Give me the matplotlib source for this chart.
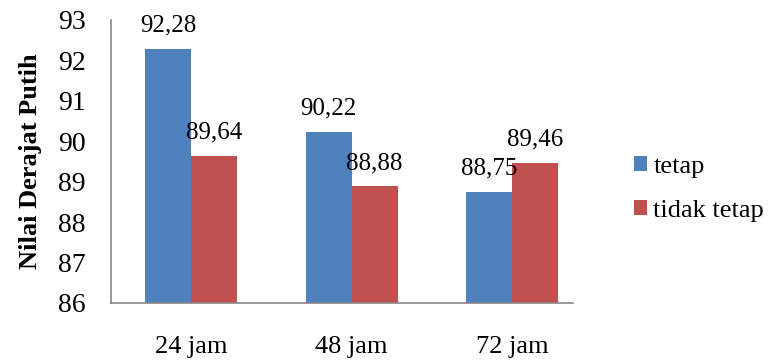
import matplotlib
matplotlib.use("Agg")
import matplotlib.pyplot as plt
import numpy as np

categories = ["24 jam", "48 jam", "72 jam"]
tetap = [92.28, 90.22, 88.75]
tidak_tetap = [89.64, 88.88, 89.46]
series_names = ["tetap", "tidak tetap"]
yticks = [86, 87, 88, 89, 90, 91, 92, 93]

plt.rcParams['font.family'] = ['Liberation Serif', 'DejaVu Serif']

fig = plt.figure(figsize=(7.68, 3.61), dpi=100)
ax = fig.add_axes([0.1445, 0.161, 0.6015, 0.7836])

x = np.arange(len(categories))
w = 0.287
blue = "#4F81BD"
red = "#C0504D"
b1 = ax.bar(x - w / 2, tetap, w, color=blue, label=series_names[0])
b2 = ax.bar(x + w / 2, tidak_tetap, w, color=red, label=series_names[1])

def fmt(v):
    return f"{v:.2f}".replace(".", ",")

for bars, vals in ((b1, tetap), (b2, tidak_tetap)):
    for rect, v in zip(bars, vals):
        ax.annotate(fmt(v), (rect.get_x() + rect.get_width() / 2, v),
                    xytext=(0, 9), textcoords="offset points",
                    ha="center", va="bottom", fontsize=18,
                    annotation_clip=False)

ax.set_ylim(86, 93)
ax.set_xlim(-0.5, 2.38)
ax.set_yticks(yticks)
ax.set_yticklabels([str(t) for t in yticks], fontsize=20)
ax.set_xticks(x)
ax.set_xticklabels(categories, fontsize=19)
ax.tick_params(axis="both", length=0)
ax.tick_params(axis="x", pad=24)
ax.tick_params(axis="y", pad=18)
for s in ("top", "right"):
    ax.spines[s].set_visible(False)
for s in ("left", "bottom"):
    ax.spines[s].set_color("#868686")
    ax.spines[s].set_linewidth(1.2)

ax.set_ylabel("Nilai Derajat Putih", fontsize=19, fontweight="bold", labelpad=12)

fig.legend(handles=[b1, b2], labels=series_names, loc="center left",
           bbox_to_anchor=(0.825, 0.476), frameon=False, fontsize=19,
           borderpad=0, borderaxespad=0,
           handlelength=0.5, handleheight=0.5, handletextpad=0.25,
           labelspacing=0.83)

fig.savefig("out.png", dpi=100)
